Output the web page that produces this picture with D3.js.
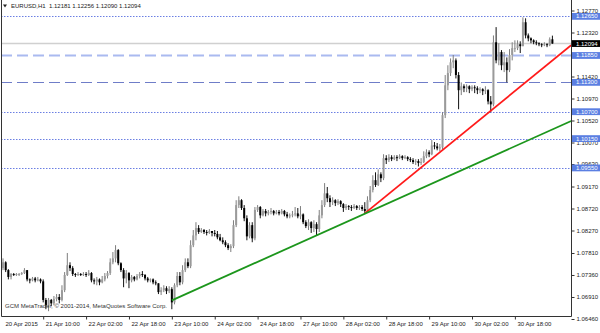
<!DOCTYPE html>
<head>
  <meta charset="utf-8">
  <title>EURUSD,H1</title>
  <script src="https://d3js.org/d3.v7.min.js"></script>
  <style>
    body { margin: 0; background: #fff; }
    text { font-family: "Liberation Sans", Arial, sans-serif; }
  </style>
</head>
<body>
  <svg id="main-svg"></svg>
  <script type="text/javascript">
    // ---- data ----
    var firstOpen = 1.0750;
    var closes = [
      1.0762, 1.0746, 1.0732, 1.0738, 1.0736, 1.0738, 1.0738, 1.0740, 1.0746, 1.0727,
      1.0725, 1.0729, 1.0725, 1.0727, 1.0723, 1.0685, 1.0674, 1.0685, 1.0678, 1.0687,
      1.0691, 1.0685, 1.0705, 1.0736, 1.0756, 1.0750, 1.0738, 1.0736, 1.0738, 1.0736,
      1.0738, 1.0736, 1.0740, 1.0725, 1.0723, 1.0727, 1.0721, 1.0727, 1.0734, 1.0740,
      1.0762, 1.0770, 1.0787, 1.0760, 1.0746, 1.0729, 1.0740, 1.0725, 1.0732, 1.0727,
      1.0734, 1.0738, 1.0736, 1.0729, 1.0725, 1.0727, 1.0721, 1.0719, 1.0701, 1.0705,
      1.0709, 1.0703, 1.0707, 1.0680, 1.0715, 1.0734, 1.0721, 1.0746, 1.0762, 1.0754,
      1.0797, 1.0817, 1.0832, 1.0824, 1.0828, 1.0824, 1.0822, 1.0826, 1.0822, 1.0820,
      1.0813, 1.0807, 1.0803, 1.0797, 1.0791, 1.0795, 1.0838, 1.0879, 1.0889, 1.0873,
      1.0852, 1.0815, 1.0838, 1.0811, 1.0869, 1.0875, 1.0858, 1.0867, 1.0862, 1.0865,
      1.0867, 1.0862, 1.0865, 1.0862, 1.0867, 1.0860, 1.0856, 1.0858, 1.0860, 1.0862,
      1.0856, 1.0860, 1.0844, 1.0836, 1.0844, 1.0832, 1.0840, 1.0830, 1.0858, 1.0879,
      1.0903, 1.0893, 1.0885, 1.0889, 1.0883, 1.0887, 1.0881, 1.0873, 1.0877, 1.0875,
      1.0873, 1.0877, 1.0873, 1.0875, 1.0871, 1.0867, 1.0889, 1.0910, 1.0930, 1.0920,
      1.0942, 1.0934, 1.0975, 1.0971, 1.0977, 1.0973, 1.0977, 1.0975, 1.0979, 1.0975,
      1.0977, 1.0973, 1.0971, 1.0967, 1.0969, 1.0965, 1.0967, 1.0979, 1.0987, 1.0983,
      1.1001, 1.0999, 1.0995, 1.0997, 1.1063, 1.1124, 1.1149, 1.1171, 1.1175, 1.1145,
      1.1114, 1.1122, 1.1118, 1.1122, 1.1116, 1.1120, 1.1118, 1.1114, 1.1116, 1.1112,
      1.1114, 1.1091, 1.1085, 1.1212, 1.1175, 1.1192, 1.1165, 1.1171, 1.1155, 1.1186,
      1.1200, 1.1200, 1.1208, 1.1204, 1.1253, 1.1226, 1.1220, 1.1216, 1.1212, 1.1210,
      1.1208, 1.1206, 1.1208, 1.1206, 1.12181, 1.12094
    ];
    var highs = [
      1.0770, 1.0764, 1.0748, 1.0740, 1.0740, 1.0740, 1.0740, 1.0742, 1.0750, 1.0746,
      1.0729, 1.0732, 1.0732, 1.0732, 1.0729, 1.0727, 1.0689, 1.0689, 1.0687, 1.0693,
      1.0697, 1.0697, 1.0715, 1.0742, 1.0781, 1.0762, 1.0754, 1.0740, 1.0742, 1.0740,
      1.0742, 1.0742, 1.0746, 1.0742, 1.0729, 1.0732, 1.0729, 1.0734, 1.0740, 1.0744,
      1.0770, 1.0783, 1.0797, 1.0789, 1.0762, 1.0750, 1.0746, 1.0742, 1.0736, 1.0734,
      1.0738, 1.0742, 1.0744, 1.0738, 1.0732, 1.0729, 1.0729, 1.0725, 1.0719, 1.0711,
      1.0715, 1.0713, 1.0713, 1.0711, 1.0719, 1.0742, 1.0742, 1.0756, 1.0770, 1.0770,
      1.0807, 1.0828, 1.0844, 1.0838, 1.0832, 1.0830, 1.0828, 1.0830, 1.0826, 1.0828,
      1.0826, 1.0820, 1.0813, 1.0807, 1.0801, 1.0799, 1.0848, 1.0889, 1.0897, 1.0891,
      1.0879, 1.0858, 1.0844, 1.0844, 1.0875, 1.0879, 1.0877, 1.0871, 1.0871, 1.0869,
      1.0873, 1.0869, 1.0869, 1.0869, 1.0871, 1.0869, 1.0865, 1.0862, 1.0867, 1.0875,
      1.0873, 1.0877, 1.0862, 1.0848, 1.0850, 1.0846, 1.0848, 1.0844, 1.0869, 1.0889,
      1.0924, 1.0916, 1.0899, 1.0895, 1.0891, 1.0891, 1.0889, 1.0883, 1.0881, 1.0879,
      1.0879, 1.0881, 1.0879, 1.0879, 1.0879, 1.0885, 1.0897, 1.0918, 1.0940, 1.0946,
      1.0952, 1.0946, 1.0983, 1.0981, 1.0983, 1.0981, 1.0981, 1.0981, 1.0983, 1.0981,
      1.0981, 1.0979, 1.0977, 1.0975, 1.0973, 1.0973, 1.0975, 1.0989, 1.0993, 1.0991,
      1.1012, 1.1008, 1.1006, 1.1004, 1.1069, 1.1145, 1.1165, 1.1179, 1.1186, 1.1179,
      1.1151, 1.1130, 1.1126, 1.1126, 1.1124, 1.1124, 1.1124, 1.1122, 1.1120, 1.1118,
      1.1122, 1.1116, 1.1102, 1.1226, 1.1243, 1.1210, 1.1196, 1.1192, 1.1181, 1.1198,
      1.1212, 1.1216, 1.1216, 1.1214, 1.1263, 1.1261, 1.1230, 1.1222, 1.1218, 1.1216,
      1.1212, 1.1210, 1.1212, 1.1210, 1.1222, 1.12256
    ];
    var lows = [
      1.0746, 1.0742, 1.0727, 1.0727, 1.0734, 1.0734, 1.0734, 1.0736, 1.0738, 1.0723,
      1.0719, 1.0723, 1.0721, 1.0723, 1.0719, 1.0680, 1.0666, 1.0662, 1.0672, 1.0674,
      1.0682, 1.0678, 1.0682, 1.0701, 1.0734, 1.0744, 1.0734, 1.0732, 1.0734, 1.0734,
      1.0734, 1.0732, 1.0734, 1.0721, 1.0717, 1.0715, 1.0715, 1.0719, 1.0723, 1.0729,
      1.0736, 1.0758, 1.0762, 1.0756, 1.0742, 1.0711, 1.0719, 1.0709, 1.0721, 1.0723,
      1.0725, 1.0729, 1.0732, 1.0725, 1.0721, 1.0721, 1.0717, 1.0715, 1.0697, 1.0695,
      1.0701, 1.0697, 1.0699, 1.0666, 1.0676, 1.0711, 1.0715, 1.0717, 1.0742, 1.0750,
      1.0750, 1.0793, 1.0807, 1.0820, 1.0822, 1.0820, 1.0817, 1.0820, 1.0815, 1.0815,
      1.0809, 1.0805, 1.0799, 1.0793, 1.0787, 1.0783, 1.0791, 1.0834, 1.0873, 1.0869,
      1.0846, 1.0807, 1.0811, 1.0803, 1.0807, 1.0865, 1.0852, 1.0856, 1.0856, 1.0858,
      1.0860, 1.0858, 1.0860, 1.0858, 1.0860, 1.0856, 1.0852, 1.0852, 1.0854, 1.0856,
      1.0852, 1.0850, 1.0840, 1.0832, 1.0828, 1.0822, 1.0824, 1.0817, 1.0824, 1.0852,
      1.0875, 1.0885, 1.0875, 1.0879, 1.0877, 1.0879, 1.0875, 1.0865, 1.0869, 1.0869,
      1.0867, 1.0871, 1.0869, 1.0869, 1.0867, 1.0862, 1.0865, 1.0885, 1.0905, 1.0916,
      1.0918, 1.0926, 1.0930, 1.0963, 1.0967, 1.0969, 1.0971, 1.0969, 1.0973, 1.0971,
      1.0973, 1.0969, 1.0967, 1.0963, 1.0961, 1.0958, 1.0961, 1.0965, 1.0975, 1.0977,
      1.0981, 1.0993, 1.0991, 1.0989, 1.0993, 1.1057, 1.1114, 1.1143, 1.1159, 1.1138,
      1.1075, 1.1104, 1.1110, 1.1110, 1.1108, 1.1112, 1.1108, 1.1106, 1.1108, 1.1104,
      1.1106, 1.1085, 1.1069, 1.1081, 1.1169, 1.1165, 1.1155, 1.1151, 1.1130, 1.1151,
      1.1175, 1.1192, 1.1196, 1.1190, 1.1204, 1.1220, 1.1214, 1.1210, 1.1208, 1.1206,
      1.1204, 1.1202, 1.1204, 1.1202, 1.1204, 1.12090
    ];

    var timeTicks = [0, 15, 31, 47, 63, 79, 95, 111, 127, 143, 159, 175, 191];
    var timeLabels = ["20 Apr 2015", "21 Apr 10:00", "22 Apr 02:00", "22 Apr 18:00", "23 Apr 10:00",
      "24 Apr 02:00", "24 Apr 18:00", "27 Apr 10:00", "28 Apr 02:00", "28 Apr 18:00",
      "29 Apr 10:00", "30 Apr 02:00", "30 Apr 18:00"];
    // 1.11870 sits under the 1.11850 box in the original, so it is left out
    var priceTicks = [1.12770, 1.12320, 1.11420, 1.10970, 1.10520, 1.10070, 1.09630,
      1.09170, 1.08720, 1.08270, 1.07810, 1.07360, 1.06910, 1.06460];

    var dottedLevels = [1.12650, 1.10700, 1.10150, 1.09550];
    var dashedLevels = [1.11850, 1.11300];
    var bidPrice = 1.12094;
    var redTrend = [[135, 1.0862], [212, 1.1206]];
    var greenTrend = [[63, 1.0684], [212, 1.1051]];
    var header = "EURUSD,H1  1.12181 1.12256 1.12090 1.12094";
    var copyright = "GCM MetaTrader, \u00a9 2001-2014, MetaQuotes Software Corp.";

    // ---- layout ----
    const svg_width = 600;
    const svg_height = 333;
    var plot = { left: 1, right: 571, top: 0, bottom: 316.5 };
    var barStep = 2.68;
    var fontSize = 6;

    var bars = closes.map(function(c, i) {
      return {
        i: i,
        open: i === 0 ? firstOpen : closes[i - 1],
        high: highs[i],
        low: lows[i],
        close: c
      };
    });

    var x = d3.scaleLinear()
      .domain([0, bars.length - 1])
      .range([3, 3 + (bars.length - 1) * barStep]);

    var y = d3.scaleLinear()
      .domain([1.06460, 1.12770])
      .range([319, 10.5]);

    var svg = d3.select('#main-svg')
      .attr('width', svg_width)
      .attr('height', svg_height);

    svg.append('rect')
      .attr('width', svg_width)
      .attr('height', svg_height)
      .attr('fill', '#fff');

    svg.append('clipPath')
      .attr('id', 'plot-clip')
      .append('rect')
      .attr('x', plot.left)
      .attr('y', plot.top)
      .attr('width', plot.right - plot.left)
      .attr('height', plot.bottom - plot.top);

    var chart = svg.append('g').attr('clip-path', 'url(#plot-clip)');

    // horizontal levels
    chart.selectAll('.dotted')
      .data(dottedLevels)
      .enter().append('line')
      .attr('x1', plot.left).attr('x2', plot.right)
      .attr('y1', function(d) { return Math.round(y(d)) + 0.5; })
      .attr('y2', function(d) { return Math.round(y(d)) + 0.5; })
      .attr('stroke', '#6b7fe3')
      .attr('stroke-width', 1)
      .attr('stroke-dasharray', '1.5,1.5');

    chart.selectAll('.dashed')
      .data(dashedLevels)
      .enter().append('line')
      .attr('x1', plot.left).attr('x2', plot.right)
      .attr('y1', function(d) { return Math.round(y(d)) + 0.5; })
      .attr('y2', function(d) { return Math.round(y(d)) + 0.5; })
      .attr('stroke', function(d, i) { return i === 0 ? '#aabaf0' : '#6f7dc8'; })
      .attr('stroke-width', function(d, i) { return i === 0 ? 2 : 1.2; })
      .attr('stroke-dasharray', '11,5');

    chart.append('line')
      .attr('x1', plot.left).attr('x2', plot.right)
      .attr('y1', y(bidPrice)).attr('y2', y(bidPrice))
      .attr('stroke', '#d0d0d0')
      .attr('stroke-width', 1.6);

    // candles
    var candle = chart.selectAll('.candle')
      .data(bars)
      .enter().append('g')
      .attr('class', 'candle');

    candle.append('line')
      .attr('x1', function(d) { return x(d.i); })
      .attr('x2', function(d) { return x(d.i); })
      .attr('y1', function(d) { return y(d.high); })
      .attr('y2', function(d) { return y(d.low); })
      .attr('stroke', function(d) { return d.close >= d.open ? '#7e7e7e' : '#111'; })
      .attr('stroke-width', 1);

    candle.append('rect')
      .attr('x', function(d) { return x(d.i) - 1; })
      .attr('width', 2)
      .attr('y', function(d) { return y(Math.max(d.open, d.close)); })
      .attr('height', function(d) { return Math.max(1, Math.abs(y(d.open) - y(d.close))); })
      .attr('fill', function(d) { return d.close >= d.open ? '#9a9a9a' : '#000'; });

    // trend lines
    [[redTrend, '#ff1a1a'], [greenTrend, '#1c961c']].forEach(function(t) {
      chart.append('line')
        .attr('x1', x(t[0][0][0])).attr('y1', y(t[0][0][1]))
        .attr('x2', x(t[0][1][0])).attr('y2', y(t[0][1][1]))
        .attr('stroke', t[1])
        .attr('stroke-width', 1.8);
    });

    // frame
    svg.append('path')
      .attr('d', 'M' + (plot.left + 0.5) + ',0V' + plot.bottom + 'H' + (plot.right + 0.5) + 'V0')
      .attr('fill', 'none')
      .attr('stroke', '#333')
      .attr('stroke-width', 1);

    // price axis
    var yAxis = d3.axisRight(y)
      .tickValues(priceTicks)
      .tickSize(3)
      .tickPadding(2)
      .tickFormat(d3.format('.5f'));

    var yg = svg.append('g')
      .attr('transform', 'translate(' + (plot.right + 0.5) + ',0)')
      .call(yAxis);
    yg.select('.domain').remove();
    yg.selectAll('.tick line').attr('stroke', '#333');
    yg.selectAll('.tick text')
      .attr('font-size', fontSize)
      .attr('fill', '#222');

    // highlighted price boxes
    var boxes = dottedLevels.concat(dashedLevels).map(function(p) { return { p: p, bid: false }; });
    boxes.push({ p: bidPrice, bid: true });

    var box = svg.selectAll('.pbox')
      .data(boxes)
      .enter().append('g')
      .attr('transform', function(d) { return 'translate(' + (plot.right + 1) + ',' + y(d.p) + ')'; });

    box.append('rect')
      .attr('x', 0).attr('y', -3.4)
      .attr('width', 28).attr('height', 6.8)
      .attr('fill', function(d) { return d.bid ? '#000' : '#5b7fe2'; });

    box.append('text')
      .attr('x', 4).attr('dy', '0.33em')
      .attr('font-size', fontSize)
      .attr('fill', '#fff')
      .text(function(d) { return d3.format('.5f')(d.p); });

    // time axis
    var xAxis = d3.axisBottom(x)
      .tickValues(timeTicks)
      .tickSize(3)
      .tickFormat(function(d, i) { return timeLabels[i]; });

    var xg = svg.append('g')
      .attr('transform', 'translate(0,' + plot.bottom + ')')
      .call(xAxis);
    xg.select('.domain').remove();
    xg.selectAll('.tick line').attr('stroke', '#333')
      .attr('opacity', function(d, i) { return i === 0 ? 0 : 1; });
    xg.selectAll('.tick text')
      .attr('font-size', fontSize)
      .attr('fill', '#222')
      .attr('text-anchor', 'start')
      .attr('x', 2)
      .attr('y', 5);

    // header and footer texts
    svg.append('path')
      .attr('d', 'M3,4.5h4l-2,3z')
      .attr('fill', '#222');

    svg.append('text')
      .attr('x', 11).attr('y', 8.3)
      .attr('font-size', fontSize)
      .attr('fill', '#222')
      .attr('xml:space', 'preserve')
      .text(header);

    svg.append('text')
      .attr('x', 5).attr('y', 308)
      .attr('font-size', fontSize)
      .attr('fill', '#333')
      .text(copyright);
  </script>
</body>
